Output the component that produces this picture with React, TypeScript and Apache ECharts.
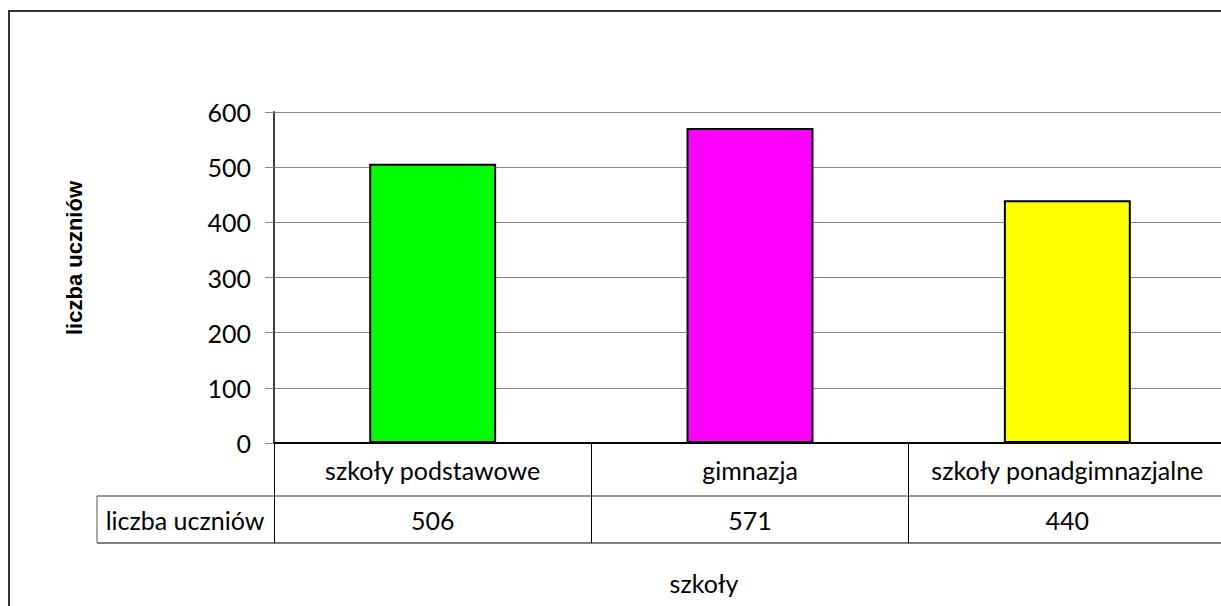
import React, { useEffect, useRef } from "react";
import * as echarts from "echarts";

const categories = ["szkoły podstawowe", "gimnazja", "szkoły ponadgimnazjalne"];
const values = [506, 571, 440];
const barColors = ["#00FF00", "#FF00FF", "#FFFF00"];
const yMin = 0;
const yMax = 600;
const yInterval = 100;
const seriesName = "liczba uczniów";
const xTitle = "szkoły";
const yTitle = "liczba uczniów";

export default function App() {
  const ref = useRef<HTMLDivElement>(null);
  useEffect(() => {
    const chart = echarts.init(ref.current!, null, { renderer: "svg" });
    const font = "Lato, 'Open Sans', sans-serif";
    const fs = 25;
    const gl = 274, gt = 112, gw = 952, gh = 331;
    const row1 = 496, row2 = 543;
    chart.setOption({
      animation: false,
      backgroundColor: "#ffffff",
      grid: { left: gl, top: gt, width: gw, height: gh, containLabel: false, outerBoundsMode: "none" },
      xAxis: [
        {
          type: "category",
          data: categories,
          position: "bottom",
          axisLine: { show: true, lineStyle: { color: "#000", width: 2 } },
          axisTick: { show: true, alignWithLabel: false, inside: false, length: row2 - (gt + gh), lineStyle: { color: "#000", width: 1 } },
          axisLabel: { interval: 0, margin: 27, verticalAlign: "middle", fontFamily: font, fontSize: fs, color: "#000" },
          splitLine: { show: false },
        },
        {
          type: "category",
          data: values.map(String),
          position: "bottom",
          axisLine: { show: false },
          axisTick: { show: false },
          axisLabel: { interval: 0, margin: 77, verticalAlign: "middle", fontFamily: font, fontSize: fs, color: "#000" },
          splitLine: { show: false },
        },
      ],
      yAxis: {
        type: "value",
        min: yMin,
        max: yMax,
        interval: yInterval,
        axisLine: { show: true, lineStyle: { color: "#404040", width: 2 } },
        axisTick: { show: true, inside: false, length: 9, lineStyle: { color: "#888", width: 1 } },
        axisLabel: { margin: 23, fontFamily: font, fontSize: fs, color: "#000" },
        splitLine: { show: true, lineStyle: { color: "#888", width: 1 } },
      },
      series: [
        {
          name: seriesName,
          type: "bar",
          xAxisIndex: 0,
          barWidth: "40%",
          data: values.map((v, i) => ({ value: v, itemStyle: { color: barColors[i] } })),
          itemStyle: { borderColor: "#000", borderWidth: 2 },
        },
      ],
      graphic: [
        {
          type: "rect",
          silent: true,
          z: -1,
          shape: { x: 9, y: 11, width: 1400, height: 800 },
          style: { fill: "transparent", stroke: "#333", lineWidth: 2 },
        },
        {
          type: "line",
          silent: true,
          shape: { x1: 97, y1: row1, x2: gl + gw, y2: row1 },
          style: { stroke: "#333", lineWidth: 1 },
        },
        {
          type: "line",
          silent: true,
          shape: { x1: 97, y1: row2, x2: gl + gw, y2: row2 },
          style: { stroke: "#808080", lineWidth: 2 },
        },
        {
          type: "line",
          silent: true,
          shape: { x1: 97, y1: row1, x2: 97, y2: row2 },
          style: { stroke: "#555", lineWidth: 1 },
        },
        {
          type: "text",
          silent: true,
          x: 185,
          y: (row1 + row2) / 2,
          style: { text: seriesName, fontFamily: font, fontSize: fs, fill: "#000", align: "center", verticalAlign: "middle" },
        },
        {
          type: "text",
          silent: true,
          x: 704,
          y: 583,
          style: { text: xTitle, fontFamily: font, fontSize: fs, fill: "#000", align: "center", verticalAlign: "middle" },
        },
        {
          type: "text",
          silent: true,
          x: 74,
          y: 258,
          rotation: Math.PI / 2,
          style: { text: yTitle, fontFamily: "'Liberation Sans', Arial, sans-serif", fontWeight: "bold", fontSize: 22, fill: "#000", align: "center", verticalAlign: "middle" },
        },
      ],
    });
    return () => chart.dispose();
  }, []);
  return <div ref={ref} style={{ position: "fixed", left: 0, top: 0, width: 1221, height: 606 }} />;
}
